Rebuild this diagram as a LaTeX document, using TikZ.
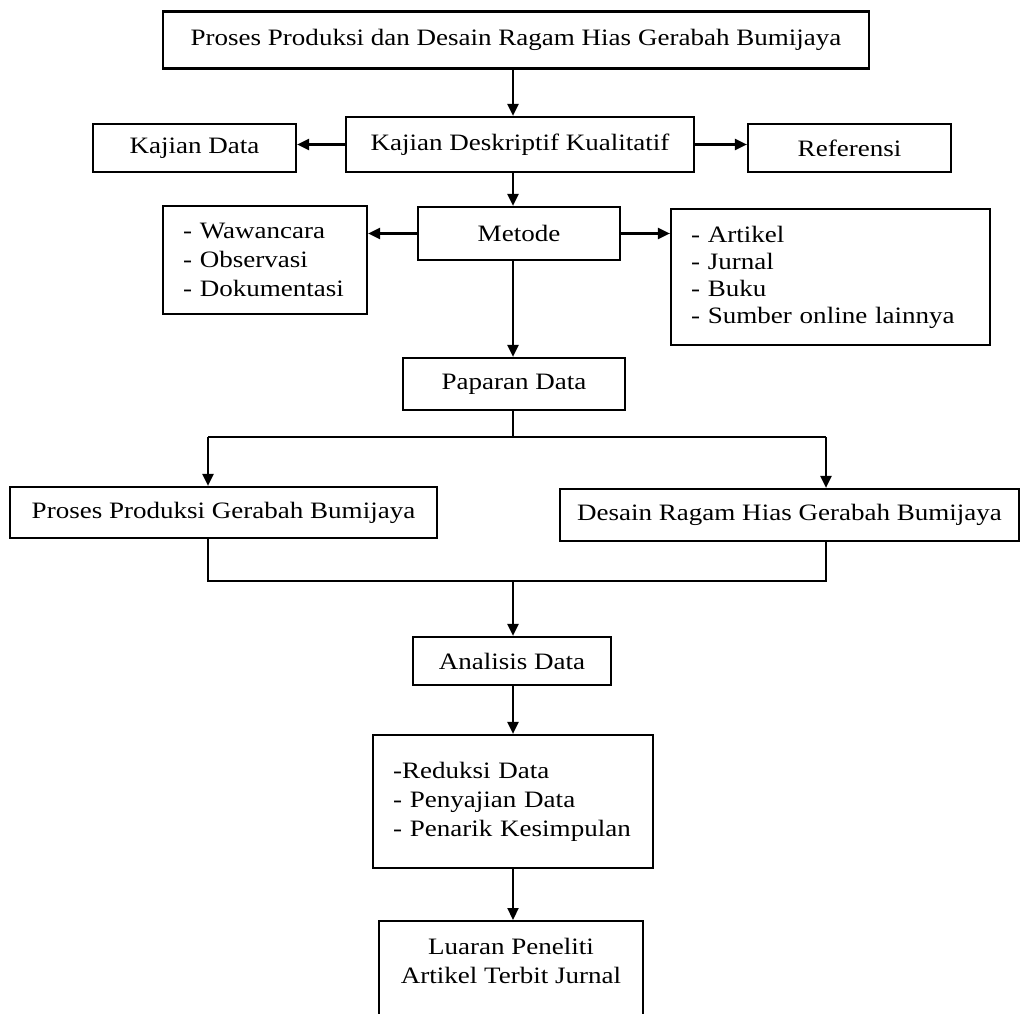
\documentclass[tikz,border=0pt]{standalone}
\usepackage{fontspec}
\setmainfont{Liberation Serif}[FakeStretch=1.15]
\usetikzlibrary{arrows.meta,calc}
\begin{document}
\begin{tikzpicture}[x=1pt,y=-1pt,
  every node/.style={font=\fontsize{23.5}{29}\selectfont},
  box/.style={draw, line width=2.2pt, inner sep=0pt, align=center},
  lbox/.style={draw, line width=2.2pt, inner xsep=20pt, inner ysep=0pt, align=left},
  conn/.style={line width=2.2pt},
  arr/.style={line width=2.2pt, -{Triangle[length=12pt,width=11pt]}}]
\useasboundingbox (0,0) rectangle (1021,1014);
\clip (0,0) rectangle (1021,1014);
\coordinate (sp) at (513,0);
\coordinate (lb) at (208,0);
\coordinate (rb) at (826,0);
\coordinate (j1) at (513,437);
\coordinate (j2) at (513,581);
\node[box, minimum width=706pt, minimum height=57pt] (top) at (516,40) {Proses Produksi dan Desain Ragam Hias Gerabah Bumijaya};
\node[box, minimum width=348pt, minimum height=55pt] (kd) at (520,144.5) {Kajian Deskriptif Kualitatif};
\node[box, minimum width=203pt, minimum height=48pt] (kdata) at (194.5,148) {Kajian Data};
\node[box, minimum width=203pt, minimum height=48pt] (ref) at (849.5,148) {Referensi};
\node[box, minimum width=202pt, minimum height=53pt] (met) at (519,233.5) {Metode};
\node[lbox, text width=164pt, minimum height=108pt] (ww) at (265,260) {- Wawancara\\- Observasi\\- Dokumentasi};
\node[lbox, text width=279pt, minimum height=136pt, font=\fontsize{23.5}{27}\selectfont] (lst) at (830.5,277) {- Artikel\\- Jurnal\\- Buku\\- Sumber online lainnya};
\node[box, minimum width=222pt, minimum height=52pt] (pap) at (514,384) {Paparan Data};
\node[box, minimum width=427pt, minimum height=51pt] (pp) at (223.5,512.5) {Proses Produksi Gerabah Bumijaya};
\node[box, minimum width=459pt, minimum height=52pt] (dr) at (789.5,515) {Desain Ragam Hias Gerabah Bumijaya};
\node[box, minimum width=198pt, minimum height=48pt] (ana) at (512,661) {Analisis Data};
\node[lbox, text width=240pt, minimum height=133pt] (red) at (513,801.5) {-Reduksi Data\\- Penyajian Data\\- Penarik Kesimpulan};
\node[box, minimum width=264pt, minimum height=130pt, anchor=north] (lu) at (511,920) {};
\node[align=center, anchor=north, inner sep=0pt] (lut) at ($(lu.north)+(0,18)$) {Luaran Peneliti\\Artikel Terbit Jurnal};
\draw[arr] (top.south -| sp) -- (kd.north -| sp);
\draw[arr] (kd.west) -- (kd.west -| kdata.east);
\draw[arr] (kd.east) -- (kd.east -| ref.west);
\draw[arr] (kd.south -| sp) -- (met.north -| sp);
\draw[arr] (met.west) -- (met.west -| ww.east);
\draw[arr] (met.east) -- (met.east -| lst.west);
\draw[arr] (met.south -| sp) -- (pap.north -| sp);
\draw[conn] (pap.south -| sp) -- (j1);
\draw[conn] (j1 -| lb) -- (j1 -| rb);
\draw[arr] (j1 -| lb) -- (pp.north -| lb);
\draw[arr] (j1 -| rb) -- (dr.north -| rb);
\draw[conn] (pp.south -| lb) |- (j2 -| rb) -- (dr.south -| rb);
\draw[arr] (j2) -- (ana.north -| sp);
\draw[arr] (ana.south -| sp) -- (red.north -| sp);
\draw[arr] (red.south -| sp) -- (lu.north -| sp);
\end{tikzpicture}
\end{document}
